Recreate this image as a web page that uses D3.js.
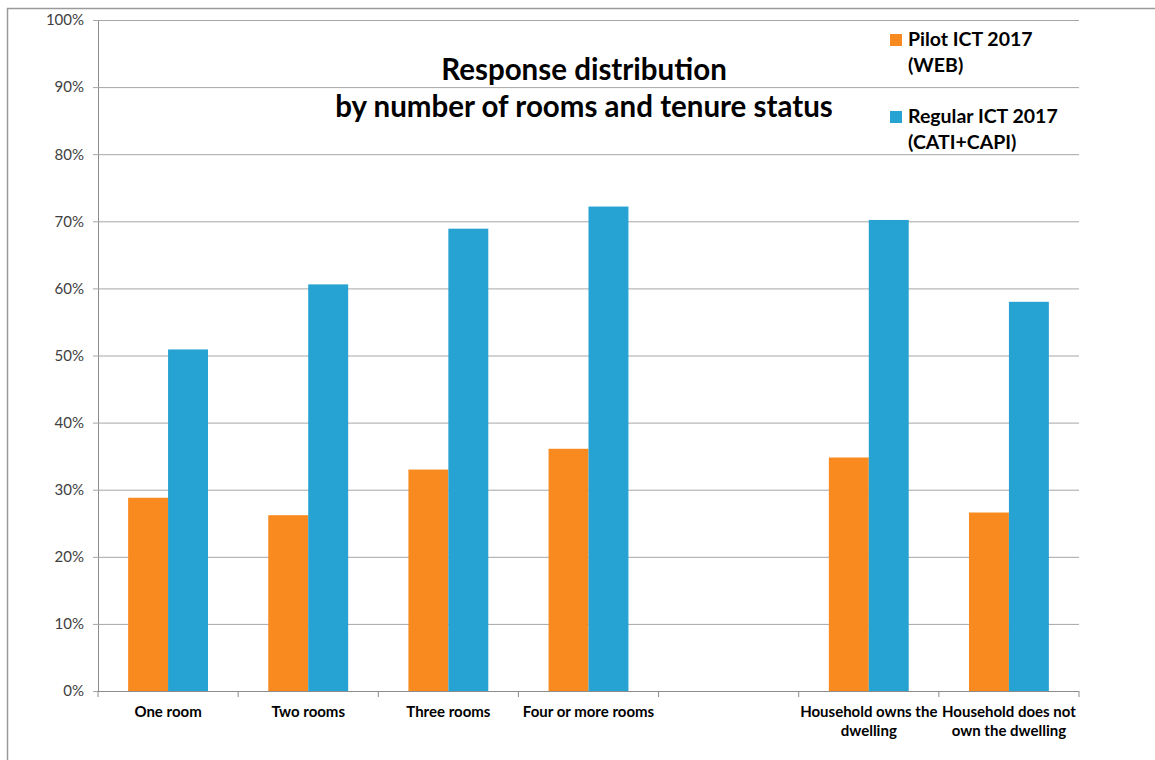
<!DOCTYPE html>
<html>
<head>
<meta charset="utf-8">
<script src="https://cdn.jsdelivr.net/npm/d3@7"></script>
<style>
  html, body { margin: 0; padding: 0; background: #fff; }
  svg { display: block; font-family: Lato, "Open Sans", sans-serif; }
</style>
</head>
<body>
<svg id="chart" width="1155" height="760"></svg>
<script>
// ---- data ----
const categories = ["One room", "Two rooms", "Three rooms", "Four or more rooms", "", "Household owns the dwelling", "Household does not own the dwelling"];
const seriesNames = ["Pilot ICT 2017 (WEB)", "Regular ICT 2017 (CATI+CAPI)"];
const legendLines = [["Pilot ICT 2017", "(WEB)"], ["Regular ICT 2017", "(CATI+CAPI)"]];
const pilotValues = [28.8, 26.2, 33.0, 36.1, null, 34.8, 26.6];
const regularValues = [50.9, 60.6, 68.9, 72.2, null, 70.2, 58.0];
const yTicks = [0, 10, 20, 30, 40, 50, 60, 70, 80, 90, 100];
const titleLines = ["Response distribution", "by number of rooms and tenure status"];
const colors = ["#F98A20", "#26A2D3"];

// ---- layout ----
const svg = d3.select("#chart");
const plot = { left: 98, right: 1079, top: 20, bottom: 691 };

// outer frame
svg.append("rect")
  .attr("x", 7.5).attr("y", 8.5).attr("width", 1160).attr("height", 770)
  .attr("fill", "none").attr("stroke", "#9a9a9a").attr("stroke-width", 1.5);

const x0 = d3.scaleBand().domain(categories).range([plot.left, plot.right])
  .paddingInner(0.43).paddingOuter(0.215);
const x1 = d3.scaleBand().domain(seriesNames).range([0, x0.bandwidth()]);
const y = d3.scaleLinear().domain([0, 100]).range([plot.bottom, plot.top]);

// gridlines + y axis
const yAxis = d3.axisLeft(y).tickValues(yTicks).tickFormat(d => d + "%")
  .tickSize(5).tickPadding(9);
const gy = svg.append("g").attr("transform", `translate(${plot.left},0)`).call(yAxis);
gy.select(".domain").attr("stroke", "#8c8c8c");
gy.selectAll(".tick line").attr("stroke", "#a6a6a6");
gy.selectAll(".tick text").attr("fill", "#404040").style("font-size", "15px").style("font-family", "Lato");
gy.selectAll(".tick").append("line")
  .attr("x1", 0).attr("x2", plot.right - plot.left)
  .attr("stroke", "#a6a6a6").attr("stroke-width", 1);

// bars
const data = categories.map((c, i) => ({ cat: c, vals: [pilotValues[i], regularValues[i]] }));
const groups = svg.append("g").selectAll("g").data(data).join("g")
  .attr("transform", d => `translate(${x0(d.cat)},0)`);
groups.selectAll("rect")
  .data(d => d.vals.map((v, j) => ({ v, j })).filter(e => e.v != null))
  .join("rect")
  .attr("x", e => x1(seriesNames[e.j]))
  .attr("width", x1.bandwidth())
  .attr("y", e => y(e.v))
  .attr("height", e => y(0) - y(e.v))
  .attr("fill", e => colors[e.j]);

// x axis
const xAxis = d3.axisBottom(x0).tickSize(0).tickPadding(0).tickFormat("");
const gx = svg.append("g").attr("transform", `translate(0,${plot.bottom})`).call(xAxis);
gx.select(".domain").attr("stroke", "#8c8c8c").attr("d", `M${plot.left},0.5H${plot.right}`);
// boundary ticks
const boundaries = d3.range(categories.length + 1).map(i => plot.left + (plot.right - plot.left) * i / categories.length);
gx.selectAll(".btick").data(boundaries).join("line").attr("class", "btick")
  .attr("x1", d => d).attr("x2", d => d).attr("y1", 0).attr("y2", 6)
  .attr("stroke", "#8c8c8c");

// category labels with wrapping
function wrapWords(text, maxW, measure) {
  const words = text.split(" ");
  const lines = [];
  let cur = "";
  words.forEach(w => {
    const t = cur ? cur + " " + w : w;
    if (measure(t) > maxW && cur) { lines.push(cur); cur = w; } else cur = t;
  });
  if (cur) lines.push(cur);
  return lines;
}
const meas = svg.append("text").style("font-size", "15px").style("font-weight", "bold").style("font-family", "Lato");
const measure = s => { meas.text(s); return meas.node().getComputedTextLength(); };
categories.forEach(c => {
  if (!c) return;
  const lines = wrapWords(c, 140, measure);
  const t = svg.append("text")
    .attr("x", x0(c) + x0.bandwidth() / 2)
    .attr("y", plot.bottom + 26)
    .attr("text-anchor", "middle")
    .style("font-size", "15px").style("font-weight", "bold").attr("fill", "#000");
  lines.forEach((l, k) => t.append("tspan").attr("x", x0(c) + x0.bandwidth() / 2).attr("dy", k ? 19 : 0).text(l));
});
meas.remove();

// title
const title = svg.append("text").attr("text-anchor", "middle")
  .style("font-size", "29.5px").style("font-weight", "bold").attr("fill", "#000");
titleLines.forEach((l, k) => title.append("tspan").attr("x", 584).attr("y", 80 + k * 37).text(l));

// legend
legendLines.forEach((lines, i) => {
  const gy0 = 34 + i * 77;
  svg.append("rect").attr("x", 890).attr("y", gy0).attr("width", 12).attr("height", 12).attr("fill", colors[i]);
  const t = svg.append("text").style("font-size", "19.5px").style("font-weight", "bold").attr("fill", "#000");
  lines.forEach((l, k) => t.append("tspan").attr("x", 908).attr("y", gy0 + 12 + k * 26).text(l));
});
</script>
</body>
</html>
